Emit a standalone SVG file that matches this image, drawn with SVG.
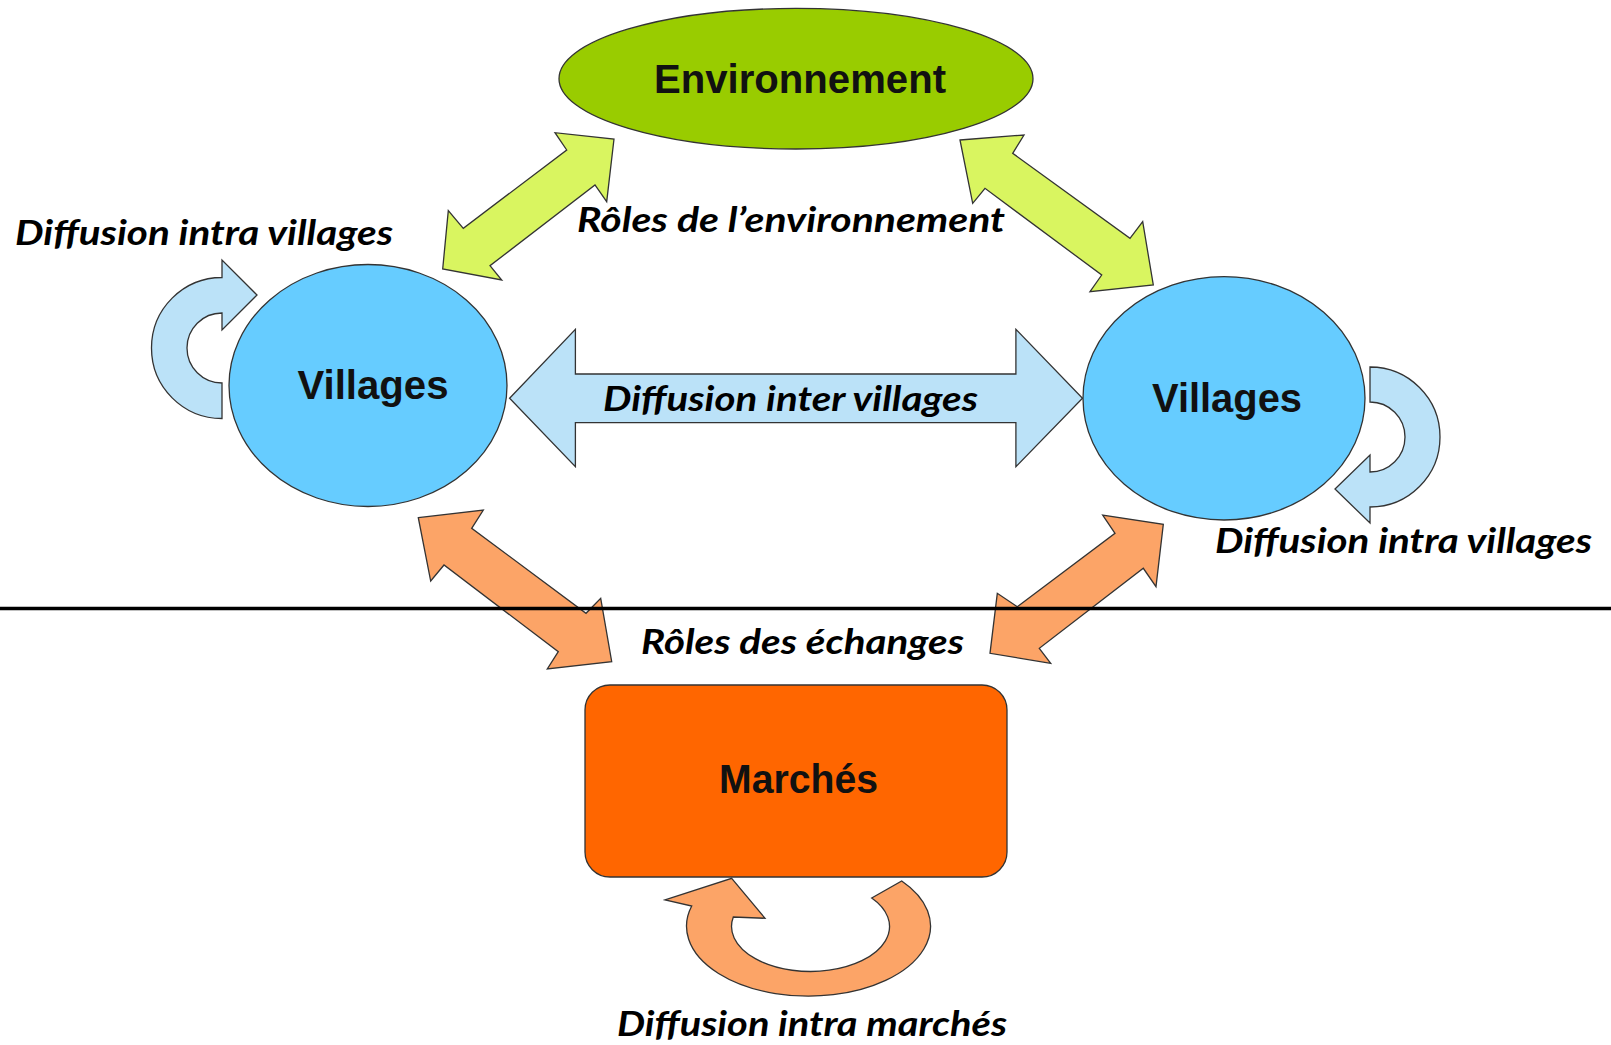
<svg xmlns="http://www.w3.org/2000/svg" width="1611" height="1045" viewBox="0 0 1611 1045">
<style>
.bg{fill:#ffffff}
.shape{stroke:#333333;stroke-width:1.3;stroke-linejoin:miter}
.green{fill:#D9F560}
.orange{fill:#FCA467}
.lblue{fill:#BBE2F8}
.env{fill:#99CC00}
.vil{fill:#66CCFF}
.mar{fill:#FF6600}
.node-text{font-family:"Liberation Sans",Arial,sans-serif;font-weight:bold;font-size:40px;fill:#111111;text-anchor:middle}
.label{font-family:"Lato","Open Sans",sans-serif;font-weight:bold;font-style:italic;font-size:35px;fill:#000000}
.divider{stroke:#000000;stroke-width:3.5}
</style>
<rect class="bg" x="0" y="0" width="1611" height="1045"/>
<g id="connectors">
  <polygon id="arrow-env-left" class="shape green" points="614,139 606.7,201.7 595,185 490,265.7 501.7,280 442.7,269 448.3,210.7 463.3,228.3 566.7,150 555,132.7"/>
  <polygon id="arrow-env-right" class="shape green" points="960,140 1024,135 1012.7,153.3 1130,238.3 1142.7,221.7 1153.3,285 1090,291.7 1101.7,275 985,188.3 972.7,203.3"/>
  <polygon id="arrow-inter" class="shape lblue" points="509.6,398.3 575.4,329.3 575.4,374 1015.9,374 1015.9,329.3 1082.5,398.3 1015.9,466.7 1015.9,422.7 575.4,422.7 575.4,466.7"/>
  <path id="loop-left" class="shape lblue" d="M 222 418.5 A 70.5 70.5 0 0 1 222 277.5 L 222 260 L 257 295 L 222 330 L 222 313 A 35 35 0 0 0 222 383 Z"/>
  <path id="loop-right" class="shape lblue" d="M 1370 367 A 70 70 0 0 1 1370 507 L 1370 523 L 1335 489 L 1370 455 L 1370 472 A 35 35 0 0 0 1370 402 Z"/>
  <polygon id="arrow-ech-left" class="shape orange" points="418.3,517.7 483.3,510 471.7,528.3 586,613.3 600.7,598.3 611.7,661.7 547.3,669 558.3,651.7 444,565 430.7,581"/>
  <polygon id="arrow-ech-right" class="shape orange" points="1163.3,524.3 1156,586.7 1143.3,568.3 1039.3,648.3 1050.7,663.3 990,653.3 997.3,593.3 1017.3,606.7 1115,533.3 1102.7,515"/>
  <path id="loop-marches" class="shape orange" d="M 731.7 878.3 L 765 918.3 L 733.3 917 A 79 45 0 1 0 871.7 898 L 901.7 881 A 122 70 0 1 1 691.7 906 L 665 900 Z"/>
</g>
<line id="divider" class="divider" x1="0" y1="608.5" x2="1611" y2="608.5"/>
<g id="node-environnement">
  <ellipse class="shape env" cx="796" cy="78.7" rx="237" ry="70.3"/>
  <text class="node-text" x="800" y="93" textLength="292" lengthAdjust="spacingAndGlyphs">Environnement</text>
</g>
<g id="node-villages-left">
  <ellipse class="shape vil" cx="368" cy="385.5" rx="139" ry="121"/>
  <text class="node-text" x="373" y="398.5" textLength="151" lengthAdjust="spacingAndGlyphs">Villages</text>
</g>
<g id="node-villages-right">
  <ellipse class="shape vil" cx="1224" cy="398.3" rx="141" ry="121.7"/>
  <text class="node-text" x="1227" y="411.5" textLength="150" lengthAdjust="spacingAndGlyphs">Villages</text>
</g>
<g id="node-marches">
  <rect class="shape mar" x="585" y="685" width="422" height="192" rx="25" ry="25"/>
  <text class="node-text" x="798.5" y="793" textLength="159" lengthAdjust="spacingAndGlyphs">Marchés</text>
</g>
<g id="labels">
  <text class="label" x="15" y="245" textLength="378" lengthAdjust="spacingAndGlyphs">Diffusion intra villages</text>
  <text class="label" x="577" y="232" textLength="428" lengthAdjust="spacingAndGlyphs">Rôles de l’environnement</text>
  <text class="label" x="603" y="411" textLength="375" lengthAdjust="spacingAndGlyphs">Diffusion inter villages</text>
  <text class="label" x="1215" y="553" textLength="377" lengthAdjust="spacingAndGlyphs">Diffusion intra villages</text>
  <text class="label" x="641" y="654" textLength="323" lengthAdjust="spacingAndGlyphs">Rôles des échanges</text>
  <text class="label" x="617" y="1036" textLength="390" lengthAdjust="spacingAndGlyphs">Diffusion intra marchés</text>
</g>
</svg>
